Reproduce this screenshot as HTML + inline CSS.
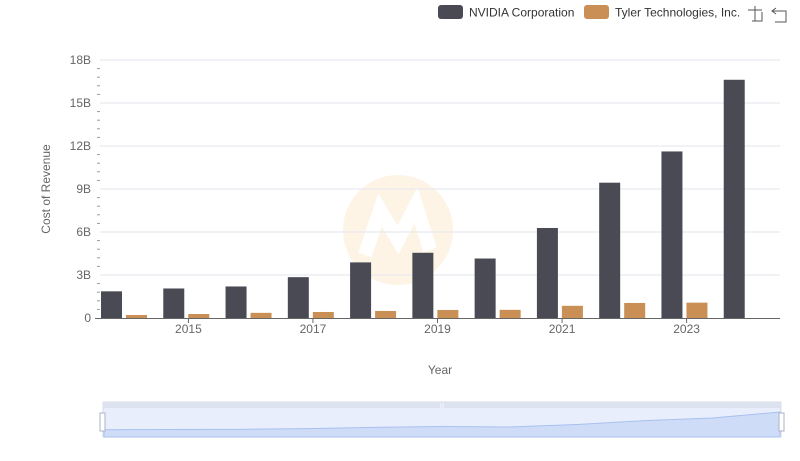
<!DOCTYPE html>
<html><head><meta charset="utf-8"><style>
html,body{margin:0;padding:0;background:#fff;width:800px;height:461px;overflow:hidden;font-family:"Liberation Sans",sans-serif}
</style></head><body>
<svg id="c" width="800" height="461" xmlns="http://www.w3.org/2000/svg" font-family="Liberation Sans, sans-serif">
  <g opacity="0.12">
    <circle cx="398" cy="230" r="55" fill="#f0a830"/>
    <path d="M365 255 L380 210 L398 240 L416 205 L430 250" stroke="#fff" stroke-width="14" fill="none"/>
  </g>
  <g id="grid"></g>
  <g id="bars"></g>
  <g id="axes"></g>
  <text x="440" y="374" text-anchor="middle" font-size="12" fill="#666">Year</text>
  <text transform="translate(50,189) rotate(-90)" text-anchor="middle" font-size="12" fill="#666">Cost of Revenue</text>
  <g>
    <g>
      <rect x="438" y="5" width="25" height="14" rx="3" fill="#4a4a55"/>
      <text x="469" y="16.5" font-size="12" fill="#333">NVIDIA Corporation</text>
    </g>
    <g>
      <rect x="584" y="5" width="25" height="14" rx="3" fill="#c98f55"/>
      <text x="615" y="16.5" font-size="12" fill="#333">Tyler Technologies, Inc.</text>
    </g>
  </g>
  <g stroke="#555" fill="none" stroke-width="1">
    <path d="M748 10 H762 M755 6 V21 M752 21 H762 V12"/>
  </g>
  <g stroke="#555" fill="none" stroke-width="1">
    <path d="M776 8 L772 11 L776 14 M772 11 H786 V22 H775"/>
  </g>
  <g>
    <rect x="103" y="402" width="678" height="35" fill="#e8eefc" stroke="#d5dbe8"/>
    <rect x="103" y="402" width="678" height="6" fill="#dce2f0"/>
    <text x="442" y="407" font-size="5" fill="#fff" text-anchor="middle">|||</text>
    <path id="spark" fill="#cfdcf8" stroke="#a9c0f0" stroke-width="1"/>
    <rect x="100" y="413" width="5" height="18" fill="#fff" stroke="#aab4c8"/>
    <rect x="779" y="413" width="5" height="18" fill="#fff" stroke="#aab4c8"/>
  </g>
</svg>
<script>
const categories=["2014","2015","2016","2017","2018","2019","2020","2021","2022","2023","2024"];
const nvidia=[1.86,2.06,2.2,2.85,3.88,4.55,4.15,6.28,9.44,11.62,16.62];
const tyler=[0.21,0.28,0.36,0.42,0.49,0.56,0.57,0.85,1.05,1.07,null];
const yTicks=[0,3,6,9,12,15,18];
const yTickLabels=["0","3B","6B","9B","12B","15B","18B"];
const xLabels=["2015","2017","2019","2021","2023"];
const NS="http://www.w3.org/2000/svg";
const X0=95,X1=780,Y0=318,Y1=60,YMAX=18;
const bw=(X1-X0)/categories.length;
const y=v=>Y0-(v/YMAX)*(Y0-Y1);
const xc=i=>X0+bw*i;
function mk(t,a,p){const e=document.createElementNS(NS,t);for(const k in a)e.setAttribute(k,a[k]);p.appendChild(e);return e;}
const grid=document.getElementById('grid'),bars=document.getElementById('bars'),axes=document.getElementById('axes');
yTicks.forEach((v,i)=>{
  if(v>0){const l=mk('line',{x1:100,x2:X1,y1:y(v),y2:y(v),stroke:'#e3e6ee'},grid);
  
  }
  const t=mk('text',{x:91,y:y(v)+4,'text-anchor':'end','font-size':12,fill:'#666'},axes);
  t.textContent=yTickLabels[i];
  
  
  if(i<yTicks.length-1){for(let k=1;k<5;k++){const mv=v+k*0.6;
    const m=mk('line',{x1:97,x2:100,y1:y(mv),y2:y(mv),stroke:'#999'},axes);
    
    }}
});
categories.forEach((c,i)=>{
  if(nvidia[i]!=null){const r=mk('rect',{x:xc(i)+6,y:y(nvidia[i]),width:21,height:Y0-y(nvidia[i]),fill:'#4a4a55'},bars);
  
  }
  if(tyler[i]!=null){const r=mk('rect',{x:xc(i)+31,y:y(tyler[i]),width:21,height:Y0-y(tyler[i]),fill:'#c98f55'},bars);
  
  }
});
const ax=mk('line',{x1:X0,x2:X1,y1:Y0+0.5,y2:Y0+0.5,stroke:'#666'},axes);


categories.forEach((c,i)=>{
  if(xLabels.includes(c)){
    const t=mk('text',{x:xc(i)+bw/2,y:Y0+15,'text-anchor':'middle','font-size':12,fill:'#666'},axes);
    t.textContent=c;
    
    
    const tk=mk('line',{x1:xc(i)+bw/2,x2:xc(i)+bw/2,y1:Y0,y2:Y0+5,stroke:'#666'},axes);
    
    }
});
// slider sparkline
const sx0=104,sx1=780,sy0=432,sy1=412;const mx=Math.max(...nvidia);
let d='M'+sx0+' '+sy0;
nvidia.forEach((v,i)=>{d+=' L'+(sx0+(sx1-sx0)*i/(nvidia.length-1))+' '+(sy0-(sy0-sy1)*v/mx);});
d+=' L'+sx1+' 437 L'+sx0+' 437 Z';
document.getElementById('spark').setAttribute('d',d);
</script>
</body></html>
